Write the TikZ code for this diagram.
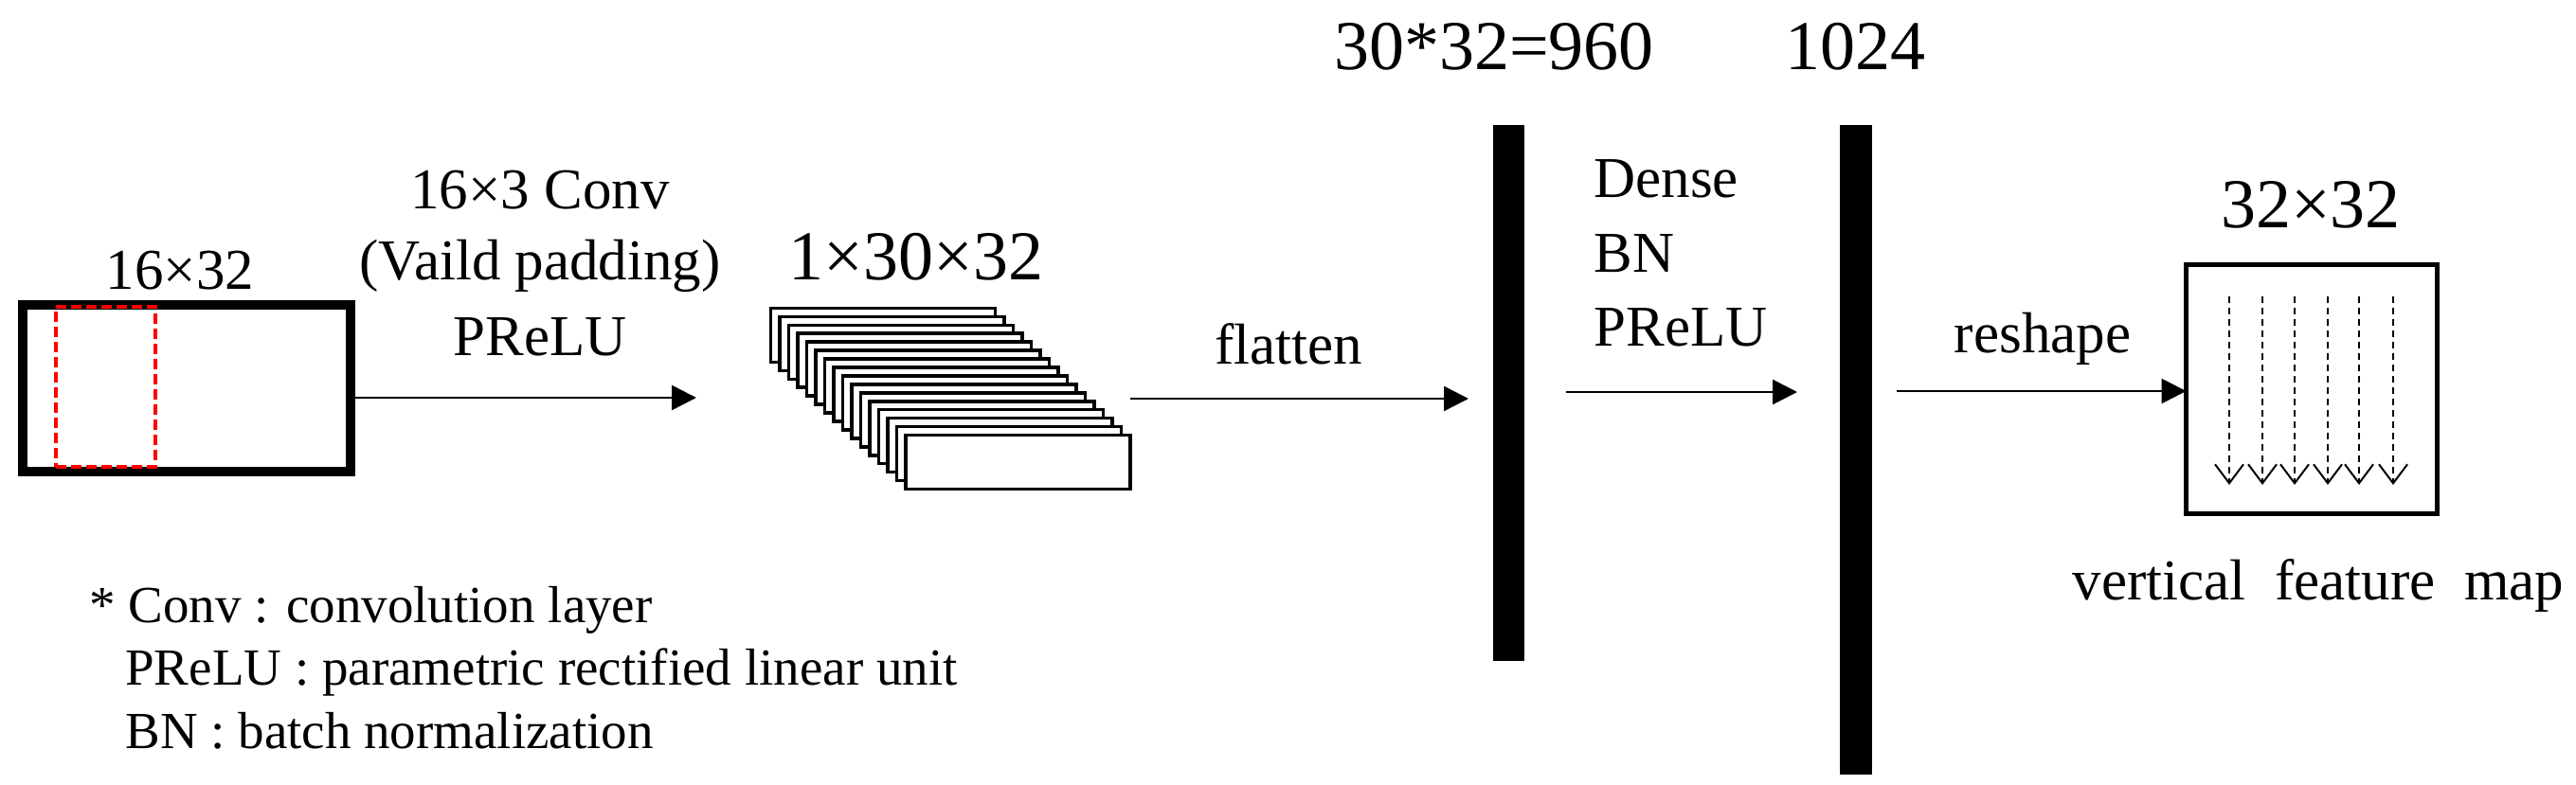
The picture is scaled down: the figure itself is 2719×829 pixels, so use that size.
\documentclass[tikz,border=0pt]{standalone}
\usepackage{fontspec}
\setmainfont{Liberation Serif}
\usetikzlibrary{arrows.meta}
\begin{document}
\begin{tikzpicture}[x=0.5pt,y=-0.5pt,
  lbl/.style={inner sep=0pt, anchor=base, font=\fontsize{30.5}{36}\selectfont},
  big/.style={inner sep=0pt, anchor=base, font=\fontsize{37}{44}\selectfont},
  leg/.style={inner sep=0pt, anchor=base west, font=\fontsize{27.5}{33}\selectfont},
  arr/.style={line width=1.3pt, -{Triangle[length=13pt,width=13pt]}},
  layer/.style={draw, fill=white, line width=1.8pt, minimum width=118.5pt, minimum height=28.5pt, inner sep=0pt, outer sep=0pt, anchor=north west},
  bar/.style={fill=black, inner sep=0pt, outer sep=0pt},
  varr/.style={line width=1pt, dash pattern=on 3.5pt off 2.5pt, -{Straight Barb[length=10pt,width=15pt,line width=1pt]}},
  frame/.style={draw, inner sep=0pt, outer sep=0pt}
]
\useasboundingbox (0,0) rectangle (2719,829);
% input map
\node[frame, line width=5pt, minimum width=173pt, minimum height=88pt] (input) at (197,410) {};
\node[frame, draw=red, line width=2pt, dash pattern=on 5.5pt off 2.5pt, minimum width=52.5pt, minimum height=84.5pt] (win) at (111.5,408.5) {};
\node[lbl] (t1632) at (190,305) {16×32};
% conv label
\node[lbl] (c1) at (570,220) {16×3 Conv};
\node[lbl] (c2) at (570,295) {(Vaild padding)};
\node[lbl] (c3) at (570,375) {PReLU};
\coordinate (a1e) at (735,420);
\draw[arr] (input.east |- a1e) -- (a1e);
% stack
\foreach \i in {0,...,15} {
  \node[layer] (L\i) at ({813.5+9.5*\i},{325.5+8.93*\i}) {};
}
\node[big] (t13032) at (967,295) {1×30×32};
% flatten
\node[lbl] (tfl) at (1360,384) {flatten};
\coordinate (a2s) at (1193,421);
\coordinate (a2e) at (1550,421);
\draw[arr] (a2s) -- (a2e);
% bar 960
\node[bar, minimum width=16.5pt, minimum height=283pt] (b960) at (1592.5,415) {};
\node[big] (t960) at (1577,74) {30*32=960};
% dense
\node[lbl, anchor=base west] (d1) at (1682,208) {Dense};
\node[lbl, anchor=base west] (d2) at (1682,287) {BN};
\node[lbl, anchor=base west] (d3) at (1682,365) {PReLU};
\coordinate (a3s) at (1653,414);
\coordinate (a3e) at (1897,414);
\draw[arr] (a3s) -- (a3e);
% bar 1024
\node[bar, minimum width=17pt, minimum height=343pt] (b1024) at (1959,475) {};
\node[big] (t1024) at (1958,74) {1024};
% reshape
\node[frame, line width=2.5pt, minimum width=132.5pt, minimum height=131.5pt] (fmap) at (2440,411) {};
\node[lbl] (tre) at (2156,372) {reshape};
\coordinate (a4s) at (2002,413);
\draw[arr] (a4s) -- (fmap.west |- a4s);
\foreach \x [count=\k] in {2353,2388,2422,2457,2490,2526} {
  \coordinate (vs\k) at (\x,313);
  \coordinate (ve\k) at (\x,512);
  \draw[varr] (vs\k) -- (ve\k);
}
\node[big] (t3232) at (2439,240) {32×32};
\node[lbl] (tvf) at (2447,633) {vertical\ \ feature\ \ map};
% legend
\node[leg] (l1) at (94,657) {* Conv : convolution layer};
\node[leg] (l2) at (132,723) {PReLU : parametric rectified linear unit};
\node[leg] (l3) at (132,790) {BN : batch normalization};
\end{tikzpicture}
\end{document}
